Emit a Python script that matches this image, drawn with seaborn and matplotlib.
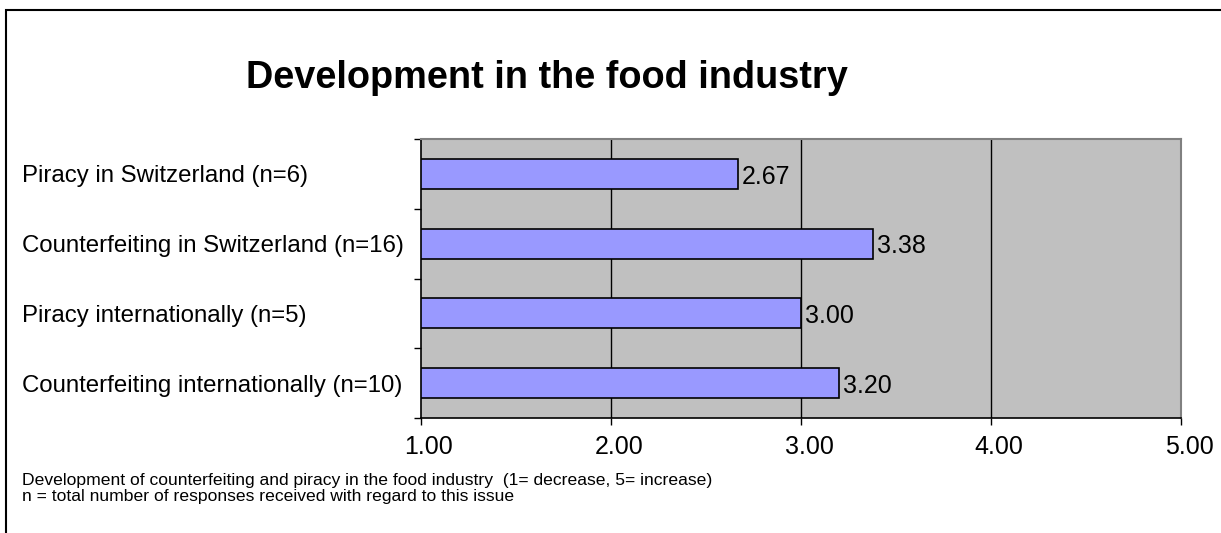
import numpy as np
import pandas as pd
import matplotlib
matplotlib.use("Agg")
import matplotlib.pyplot as plt
import matplotlib.patches as mpatches
import matplotlib.transforms as mtransforms
import seaborn as sns

# data
categories = [
    "Piracy in Switzerland (n=6)",
    "Counterfeiting in Switzerland (n=16)",
    "Piracy internationally (n=5)",
    "Counterfeiting internationally (n=10)",
]
scores = [2.67, 3.38, 3.00, 3.20]
x_ticks = [1.0, 2.0, 3.0, 4.0, 5.0]
title = "Development in the food industry"
note_1 = "Development of counterfeiting and piracy in the food industry  (1= decrease, 5= increase)"
note_2 = "n = total number of responses received with regard to this issue"

sns.set_style("white")
plt.rcParams["font.family"] = ["Liberation Sans", "DejaVu Sans"]
plt.rcParams["text.color"] = "black"
plt.rcParams["xtick.color"] = "black"
plt.rcParams["ytick.color"] = "black"
plt.rcParams["xtick.labelcolor"] = "black"
plt.rcParams["ytick.labelcolor"] = "black"

df = pd.DataFrame({"item": categories, "score": scores})

fig = plt.figure(figsize=(12.21, 5.33), dpi=100)
ax = fig.add_axes([421 / 1221, 1 - 418 / 533, 760 / 1221, 279 / 533])
ax.set_facecolor("#C0C0C0")

sns.barplot(data=df, x="score", y="item", orient="h", color="#9999FF",
            edgecolor="black", linewidth=1.2, width=0.43, saturation=1, ax=ax)

ax.set_xlim(1, 5)
ax.set_ylim(3.5, -0.5)
ax.set_xticks(x_ticks)
ax.set_xticklabels([f"{v:.2f}" for v in x_ticks], fontsize=18)
ax.set_xlabel("")
ax.set_ylabel("")

# vertical gridlines
for v in x_ticks[1:-1]:
    ax.axvline(v, color="black", lw=1, zorder=0.5)
ax.set_axisbelow(True)

# value labels, sitting a touch below the bar centre like the original
for p, v in zip(ax.patches, scores):
    ax.text(p.get_width() + p.get_x() + 0.02, p.get_y() + p.get_height() / 2 + 0.04,
            f"{v:.2f}", fontsize=18, va="center", ha="left", color="black")

# y labels left aligned at the figure edge, ticks between categories
ax.tick_params(axis="y", which="major", length=0, pad=287, labelsize=17.3)
for lab in ax.get_yticklabels():
    lab.set_ha("left")
ax.set_yticks(np.arange(-0.5, 4, 1), minor=True)
ax.tick_params(axis="y", which="minor", length=5, width=1, color="black", direction="out", left=True)
ax.tick_params(axis="x", length=5, width=1, color="black", direction="out", bottom=True, pad=7)

# shift x tick labels slightly right like the original
offset = mtransforms.ScaledTranslation(8 / 100, 0, fig.dpi_scale_trans)
for lab in ax.get_xticklabels():
    lab.set_transform(lab.get_transform() + offset)

for side in ["top", "right"]:
    ax.spines[side].set_color("#808080")
    ax.spines[side].set_linewidth(1.5)
for side in ["bottom", "left"]:
    ax.spines[side].set_color("black")
    ax.spines[side].set_linewidth(1.2)
    ax.spines[side].set_visible(True)

fig.text(547 / 1221, 1 - 78 / 533, title, fontsize=27.3, fontweight="bold",
         ha="center", va="center", color="black")
fig.text(22 / 1221, 1 - 480 / 533, note_1, fontsize=12.6, ha="left", va="center", color="black")
fig.text(22 / 1221, 1 - 497 / 533, note_2, fontsize=12.6, ha="left", va="center", color="black")

# outer frame (only top and left visible in the crop)
frame = mpatches.Rectangle((6 / 1221, -0.2), 2, 1.2 - 10 / 533, transform=fig.transFigure,
                           fill=False, edgecolor="black", lw=1.5, clip_on=False)
fig.patches.append(frame)

fig.savefig("out.png", dpi=100)
